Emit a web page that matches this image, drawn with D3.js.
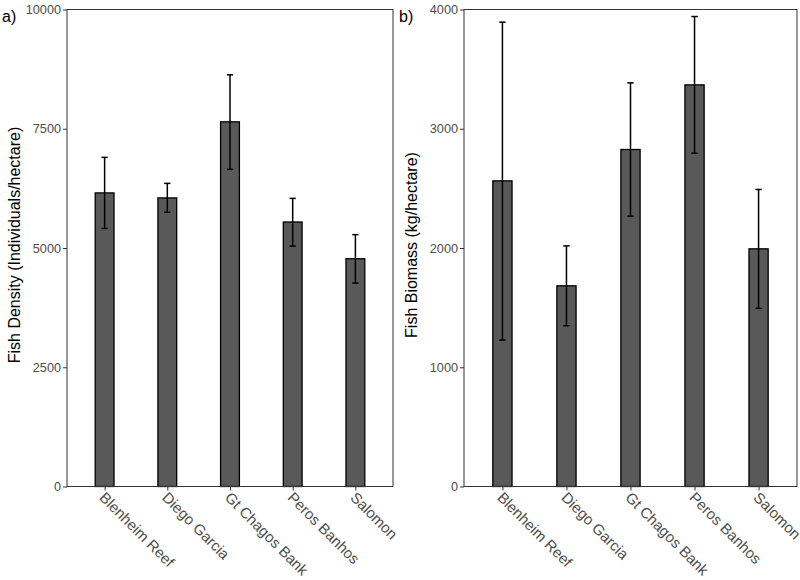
<!DOCTYPE html>
<html>
<head>
<meta charset="utf-8">
<script src="https://cdnjs.cloudflare.com/ajax/libs/d3/7.8.5/d3.min.js"></script>
<style>
  body { margin: 0; background: #fff; }
  text { font-family: "Liberation Sans", Arial, sans-serif; }
</style>
</head>
<body>
<div id="chart"></div>
<script>
var sites = ["Blenheim Reef", "Diego Garcia", "Gt Chagos Bank", "Peros Banhos", "Salomon"];

// panel a: fish density (individuals/hectare)
var density = [6155, 6050, 7645, 5545, 4775];
var densityLo = [5410, 5750, 6650, 5040, 4265];
var densityHi = [6900, 6355, 8630, 6040, 5280];
var densityTicks = [0, 2500, 5000, 7500, 10000];

// panel b: fish biomass (kg/hectare)
var biomass = [2563, 1683, 2826, 3368, 1993];
var biomassLo = [1228, 1348, 2267, 2795, 1494];
var biomassHi = [3894, 2018, 3385, 3941, 2491];
var biomassTicks = [0, 1000, 2000, 3000, 4000];

var width = 800, height = 580;

var svg = d3.select('#chart')
  .append('svg')
  .attr('width', width)
  .attr('height', height);

function panel(opts) {
  var x = d3.scalePoint()
    .domain(sites)
    .range([opts.left, opts.right])
    .padding(0.6);
  var step = x.step();

  var y = d3.scaleLinear()
    .domain([0, opts.max])
    .range([opts.bottom, opts.top]);

  var g = svg.append('g');

  var rows = sites.map(function (s, i) {
    return { site: s, value: opts.values[i], lo: opts.lo[i], hi: opts.hi[i] };
  });

  // bars
  g.selectAll('.bar')
    .data(rows)
    .enter()
    .append('rect')
    .attr('class', 'bar')
    .attr('x', function (d) { return x(d.site) - step * 0.15; })
    .attr('width', step * 0.3)
    .attr('y', function (d) { return y(d.value); })
    .attr('height', function (d) { return y(0) - y(d.value); })
    .attr('fill', '#595959')
    .attr('stroke', '#000')
    .attr('stroke-width', 1.3);

  // error bars
  var err = g.selectAll('.err')
    .data(rows)
    .enter()
    .append('g')
    .attr('class', 'err')
    .attr('stroke', '#000')
    .attr('stroke-width', 1.5);
  err.append('line')
    .attr('x1', function (d) { return x(d.site); })
    .attr('x2', function (d) { return x(d.site); })
    .attr('y1', function (d) { return y(d.lo); })
    .attr('y2', function (d) { return y(d.hi); });
  err.append('line')
    .attr('x1', function (d) { return x(d.site) - step * 0.05; })
    .attr('x2', function (d) { return x(d.site) + step * 0.05; })
    .attr('y1', function (d) { return y(d.hi); })
    .attr('y2', function (d) { return y(d.hi); });
  err.append('line')
    .attr('x1', function (d) { return x(d.site) - step * 0.05; })
    .attr('x2', function (d) { return x(d.site) + step * 0.05; })
    .attr('y1', function (d) { return y(d.lo); })
    .attr('y2', function (d) { return y(d.lo); });

  // border
  g.append('rect')
    .attr('x', opts.left)
    .attr('y', opts.top)
    .attr('width', opts.right - opts.left)
    .attr('height', opts.bottom - opts.top)
    .attr('fill', 'none')
    .attr('stroke', '#333')
    .attr('stroke-width', 1);

  // y axis
  var yAxis = g.append('g')
    .attr('transform', 'translate(' + opts.left + ',0)')
    .call(d3.axisLeft(y).tickValues(opts.ticks).tickSize(4).tickPadding(2).tickFormat(d3.format('d')));
  yAxis.select('.domain').remove();
  yAxis.selectAll('line').attr('stroke', '#333');
  yAxis.selectAll('text')
    .attr('fill', '#4d4d4d')
    .style('font-size', '12.7px')
    .style('font-family', '"Liberation Sans", Arial, sans-serif');

  // x axis
  var xAxis = g.append('g')
    .attr('transform', 'translate(0,' + opts.bottom + ')')
    .call(d3.axisBottom(x).tickSize(4).tickFormat(''));
  xAxis.select('.domain').remove();
  xAxis.selectAll('line').attr('stroke', '#333');

  g.selectAll('.xlab')
    .data(sites)
    .enter()
    .append('text')
    .attr('class', 'xlab')
    .attr('transform', function (d) {
      return 'translate(' + (x(d) - 6) + ',' + (opts.bottom + 12) + ') rotate(45)';
    })
    .attr('text-anchor', 'start')
    .attr('fill', '#4d4d4d')
    .style('font-size', '15px')
    .text(function (d) { return d; });

  // y title
  g.append('text')
    .attr('transform', 'translate(' + (opts.left - 47) + ',' + ((opts.top + opts.bottom) / 2 - 3) + ') rotate(-90)')
    .attr('text-anchor', 'middle')
    .attr('fill', '#000')
    .style('font-size', '16px')
    .text(opts.title);

  // panel tag
  g.append('text')
    .attr('x', opts.left - 65)
    .attr('y', 22)
    .attr('fill', '#000')
    .style('font-size', '16px')
    .text(opts.tag);
}

panel({
  left: 67, right: 393, top: 9.5, bottom: 486.5,
  max: 10000, ticks: densityTicks,
  values: density, lo: densityLo, hi: densityHi,
  title: 'Fish Density (Individuals/hectare)', tag: 'a)'
});

panel({
  left: 464, right: 797, top: 9.5, bottom: 486.5,
  max: 4000, ticks: biomassTicks,
  values: biomass, lo: biomassLo, hi: biomassHi,
  title: 'Fish Biomass (kg/hectare)', tag: 'b)'
});
</script>
</body>
</html>
